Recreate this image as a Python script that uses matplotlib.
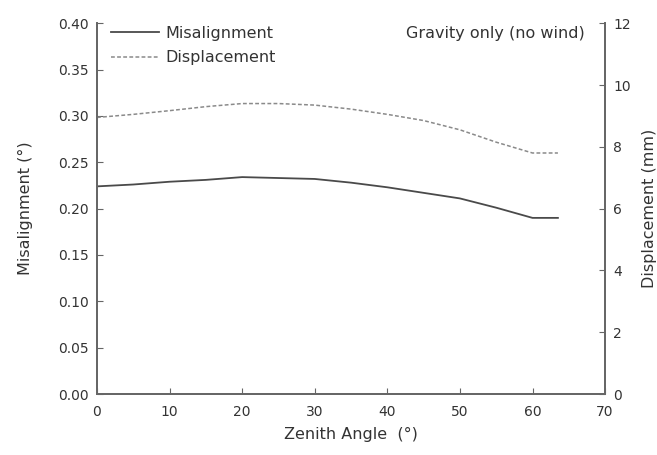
import numpy as np
import matplotlib.pyplot as plt

plt.rcParams['font.family'] = ['DejaVu Sans']
plt.rcParams['font.size'] = 10

# data
zenith = [0, 5, 10, 15, 20, 25, 30, 35, 40, 45, 50, 55, 60, 63.5]
misalignment = [0.224, 0.226, 0.229, 0.231, 0.234, 0.233, 0.232, 0.228,
                0.223, 0.217, 0.211, 0.201, 0.190, 0.190]
displacement = [8.95, 9.05, 9.17, 9.30, 9.40, 9.40, 9.35, 9.22,
                9.05, 8.85, 8.55, 8.15, 7.80, 7.80]

line_col = '#4a4a4a'
axis_col = '#666666'
text_col = '#333333'
big = 11.5

fig = plt.figure(figsize=(6.57, 4.55), dpi=100)
ax = fig.add_axes([0.1476, 0.134, 0.7734, 0.815])
ax2 = ax.twinx()

l1, = ax.plot(zenith, misalignment, '-', color=line_col, lw=1.3, label='Misalignment')
l2, = ax2.plot(zenith, displacement, color='#8a8a8a', lw=1.1,
               linestyle=(0, (2.5, 1.5)), label='Displacement')

ax.set_xlim(0, 70)
ax.set_ylim(0, 0.40)
ax2.set_ylim(0, 12)
ax.set_xticks(np.arange(0, 71, 10))
ax.set_yticks(np.arange(0, 0.401, 0.05))
ax.set_yticklabels([f'{v:.2f}' for v in np.arange(0, 0.401, 0.05)])
ax2.set_yticks(np.arange(0, 13, 2))

for a in (ax, ax2):
    a.spines['top'].set_visible(False)
    for s in ('left', 'right', 'bottom'):
        a.spines[s].set_color(axis_col)
        a.spines[s].set_linewidth(1.3)
    a.tick_params(direction='in', length=4, color=axis_col, labelcolor=text_col)
ax.tick_params(axis='x', pad=8)
ax.tick_params(axis='y', pad=6)
ax2.tick_params(axis='y', pad=6)

ax.set_xlabel('Zenith Angle  (°)', color=text_col, labelpad=6, fontsize=big)
ax.set_ylabel('Misalignment (°)', color=text_col, labelpad=18, fontsize=big)
ax2.set_ylabel('Displacement (mm)', color=text_col, labelpad=8, fontsize=big)

ax.legend(handles=[l1, l2], loc='upper left', frameon=False,
          bbox_to_anchor=(0.0, 1.032), handlelength=3.0, handletextpad=0.4,
          labelspacing=0.6, labelcolor=text_col, fontsize=big)
ax.text(0.959, 0.993, 'Gravity only (no wind)', transform=ax.transAxes,
        ha='right', va='top', color=text_col, fontsize=big)

fig.savefig('out.png', dpi=100)
